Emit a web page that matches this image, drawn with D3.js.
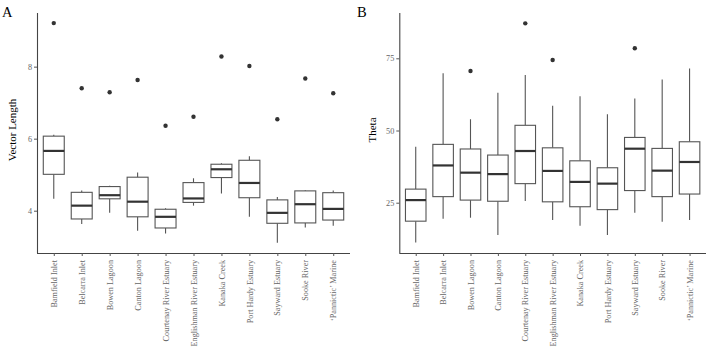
<!DOCTYPE html>
<html>
<head>
<meta charset="utf-8">
<script src="https://cdn.jsdelivr.net/npm/d3@7"></script>
<style>
  body { margin: 0; background: #fff; }
  svg { display: block; }
</style>
</head>
<body>
<svg width="709" height="349"></svg>
<script>
var sites = ['Bamfield Inlet', 'Belcarra Inlet', 'Bowen Lagoon', 'Canton Lagoon',
  'Courtenay River Estuary', 'Englishman River Estuary', 'Kanaka Creek',
  'Port Hardy Estuary', 'Sayward Estuary', 'Sooke River', '\u2018Pannictic\u2019 Marine'];

// panel A: vector length
var vlLow  = [4.33, 3.63, 3.94, 3.44, 3.37, 4.14, 4.48, 3.83, 3.11, 3.53, 3.58];
var vlQ1   = [5.01, 3.77, 4.33, 3.83, 3.52, 4.23, 4.92, 4.36, 3.65, 3.66, 3.74];
var vlMed  = [5.66, 4.14, 4.43, 4.25, 3.83, 4.34, 5.15, 4.77, 3.94, 4.18, 4.05];
var vlQ3   = [6.07, 4.51, 4.67, 4.93, 4.04, 4.78, 5.29, 5.40, 4.30, 4.55, 4.50];
var vlHigh = [6.11, 4.56, 4.69, 5.06, 4.07, 4.90, 5.32, 5.51, 4.38, 4.57, 4.56];
var vlOut  = [9.21, 7.40, 7.29, 7.63, 6.36, 6.61, 8.28, 8.02, 6.54, 7.67, 7.26];
var vlTicks = [4, 6, 8];

// panel B: theta
var thLow  = [11.2, 19.4, 19.8, 13.8, 25.6, 19.0, 17.0, 13.8, 21.5, 18.4, 19.0];
var thQ1   = [18.6, 27.1, 25.9, 25.5, 31.6, 25.3, 23.6, 22.6, 29.2, 27.1, 28.0];
var thMed  = [25.9, 37.9, 35.4, 34.9, 42.9, 36.0, 32.2, 31.6, 43.7, 36.1, 39.1];
var thQ3   = [29.7, 45.2, 43.6, 41.5, 51.8, 44.0, 39.5, 37.1, 47.6, 43.8, 46.1];
var thHigh = [44.4, 69.8, 53.9, 63.1, 69.2, 58.6, 61.9, 55.6, 61.1, 67.7, 71.5];
var thOut  = [null, null, 70.6, null, 87.1, 74.4, null, null, 78.5, null, null];
var thTicks = [25, 50, 75];

var svg = d3.select('svg');
var font = 'Liberation Serif, Times New Roman, serif';

function panel(opts) {
  var g = svg.append('g');
  var x = d3.scalePoint().domain(sites).range(opts.xRange).padding(0.6);
  var y = d3.scaleLinear().domain(opts.yDomain).range([253, 13]);
  var bw = x.step() * 0.75;

  var rows = sites.map((s, i) => ({
    site: s, lo: opts.low[i], q1: opts.q1[i], med: opts.med[i],
    q3: opts.q3[i], hi: opts.high[i], out: opts.out[i]
  }));

  var b = g.selectAll('g.box').data(rows).enter().append('g').attr('class', 'box');
  b.append('line')
    .attr('x1', d => x(d.site)).attr('x2', d => x(d.site))
    .attr('y1', d => y(d.q3)).attr('y2', d => y(d.hi))
    .attr('stroke', '#555').attr('stroke-width', 1.1);
  b.append('line')
    .attr('x1', d => x(d.site)).attr('x2', d => x(d.site))
    .attr('y1', d => y(d.q1)).attr('y2', d => y(d.lo))
    .attr('stroke', '#555').attr('stroke-width', 1.1);
  b.append('rect')
    .attr('x', d => x(d.site) - bw / 2).attr('width', bw)
    .attr('y', d => y(d.q3)).attr('height', d => y(d.q1) - y(d.q3))
    .attr('fill', '#fff').attr('stroke', '#555').attr('stroke-width', 1.1);
  b.append('line')
    .attr('x1', d => x(d.site) - bw / 2).attr('x2', d => x(d.site) + bw / 2)
    .attr('y1', d => y(d.med)).attr('y2', d => y(d.med))
    .attr('stroke', '#333').attr('stroke-width', 2.2);
  b.filter(d => d.out != null).append('circle')
    .attr('cx', d => x(d.site)).attr('cy', d => y(d.out)).attr('r', 2.2)
    .attr('fill', '#333');

  // axes
  var yAxis = g.append('g')
    .attr('transform', 'translate(' + [opts.xRange[0], 0] + ')')
    .call(d3.axisLeft(y).tickValues(opts.ticks).tickFormat(d3.format('d')).tickSize(3).tickPadding(2));
  var xAxis = g.append('g')
    .attr('transform', 'translate(' + [0, 253] + ')')
    .call(d3.axisBottom(x).tickSize(3).tickPadding(5));
  [yAxis, xAxis].forEach(a => {
    a.select('.domain').attr('stroke', '#444').attr('stroke-width', 1.1);
    a.selectAll('.tick line').attr('stroke', '#555');
    a.selectAll('.tick text').attr('fill', '#666').style('font-family', font).style('font-size', '8.2px');
  });
  yAxis.select('.domain').attr('d', 'M0.5,253V13');
  xAxis.select('.domain').attr('d', 'M' + opts.xRange[0] + ',0.5H' + opts.xRange[1]);
  xAxis.selectAll('.tick text')
    .attr('transform', 'rotate(-90)')
    .attr('text-anchor', 'end')
    .attr('x', -7).attr('y', 0).attr('dy', '0.32em');

  g.append('text')
    .attr('transform', 'translate(' + [opts.titleX, 130] + ') rotate(-90)')
    .attr('text-anchor', 'middle')
    .style('font-family', font).style('font-size', '11px')
    .text(opts.title);

  g.append('text')
    .attr('x', opts.tagX).attr('y', 17)
    .style('font-family', font).style('font-size', '14.5px')
    .text(opts.tag);
}

panel({ xRange: [37, 350], yDomain: [2.825, 9.49], low: vlLow, q1: vlQ1, med: vlMed,
  q3: vlQ3, high: vlHigh, out: vlOut, ticks: vlTicks, title: 'Vector Length',
  titleX: 16, tag: 'A', tagX: 2 });
panel({ xRange: [399.3, 706], yDomain: [7.58, 90.69], low: thLow, q1: thQ1, med: thMed,
  q3: thQ3, high: thHigh, out: thOut, ticks: thTicks, title: 'Theta',
  titleX: 376, tag: 'B', tagX: 357 });
</script>
</body>
</html>
